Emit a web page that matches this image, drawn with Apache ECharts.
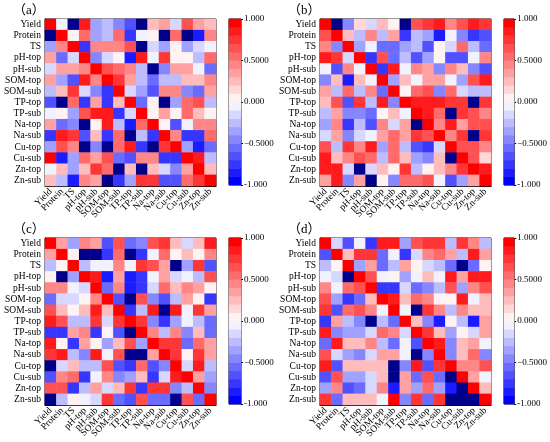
<!DOCTYPE html>
<html>
<head>
<meta charset="utf-8">
<script src="https://cdn.jsdelivr.net/npm/echarts@6/dist/echarts.min.js"></script>
<style>
  html, body { margin: 0; padding: 0; background: #fff; }
  #chart { width: 550px; height: 442px; }
</style>
</head>
<body>
<div id="chart"></div>
<script>
var labels = ['Yield', 'Protein', 'TS', 'pH-top', 'pH-sub', 'SOM-top', 'SOM-sub', 'TP-top', 'TP-sub', 'Na-top', 'Na-sub', 'Cu-top', 'Cu-sub', 'Zn-top', 'Zn-sub'];
var panelTitles = ['（a）', '（b）', '（c）', '（d）'];
var colorbarTicks = [-1, -0.5, 0, 0.5, 1];
var colorbarLabels = ['-1.000', '\u22120.5000', '0.000', '0.5000', '1.000'];

// rows = y labels (top to bottom), cols = x labels
var corrA = [
  [0.95, -0.05, -1, 0.85, -0.4, -0.3, -0.45, -0.7, -1, 0.25, 0.35, -0.2, 0.6, 0.3, 0.2],
  [-1, 0.95, 0, 0.5, -0.4, -0.25, 0.5, -0.8, -0.05, 0.05, -1, 0.55, -1, -0.85, 0.4],
  [-0.4, 0.4, 0.95, -0.75, 0.45, 0.45, 0.45, 0.65, -1, -0.2, -0.35, 0.05, -0.4, -0.15, -0.05],
  [0.3, -0.6, -0.2, 0.95, -0.45, -0.15, 0.05, -0.85, 0.8, -0.05, 0.7, 0.05, 0.05, -0.25, 0.55],
  [-0.15, 0.3, 0.3, 0.4, 0.95, 0.65, 0.55, 0.45, -0.25, -1, -0.5, 0.3, 0.3, -0.05, -0.55],
  [0.35, -0.4, -0.65, 0.8, 0.4, 0.95, 0.75, 0.3, -0.3, -0.6, -0.25, -0.25, 0.2, 0.25, 0.45],
  [-0.3, 0.2, 0.75, -0.2, -0.5, -0.8, 0.95, -0.2, -0.4, -0.7, 0.45, 0.45, -0.5, -0.6, 0.35],
  [-0.7, -1, 0.5, -0.8, 0.3, -0.8, 0.2, 0.95, -0.6, 0.05, -1, -0.35, 0.5, 0.65, -0.3],
  [-0.05, 0.05, -0.35, 0.6, 0.85, 0.8, -0.75, -0.15, 0.95, 0.05, 0.3, 0.05, 0.55, 0.25, 0.05],
  [0.3, -0.6, -0.5, -1, 0.05, 0.85, -0.25, -0.85, 0.5, 0.95, 0.05, -0.65, -0.05, 0.4, 0.4],
  [-0.75, 0.85, 0.75, -0.7, 0.2, -0.8, 0.5, -1, -0.3, -0.8, 0.95, 0.45, -0.75, -0.75, 0.5],
  [-0.35, 0.6, 0.45, -1, -0.5, -1, 0.5, 0.8, -0.75, -1, 0.75, 0.95, -0.4, -0.85, -0.6],
  [0.9, -0.85, -0.4, 0.55, 0.35, 0.6, -0.6, -0.65, 0.4, 0.45, -0.8, -0.75, 0.95, 0.8, -0.25],
  [-0.05, 0.25, -0.4, 0.2, 0.75, 0.55, -1, 0.2, -1, 0.2, -0.15, -0.45, 0.35, 0.95, 0.2],
  [0.2, -0.25, -0.85, 0.45, 0.35, -1, -0.75, -0.4, 0.7, 0.7, -0.7, -0.7, 0.5, 0.7, 0.95]
];
var corrB = [
  [0.95, -1, -0.5, 0.1, -0.2, 0.25, 0.05, -1, 0.6, 0.7, 0.8, 0.45, 0.6, 0.85, 0.7],
  [0.6, 0.95, 0.25, -0.3, 0.45, -0.25, 0.3, -0.8, -0.25, -0.35, -0.9, -0.1, -0.5, -0.8, -0.65],
  [0.4, -0.5, 0.95, -0.35, -0.05, -0.55, -0.55, -0.35, -0.25, -0.7, 0.05, -0.2, 0.55, -0.3, -0.55],
  [0.8, 0.75, -0.15, 0.95, -0.8, 0.65, -0.55, -0.3, -0.7, -0.4, 0.05, -0.7, -0.65, -0.05, 0.4],
  [-0.05, -0.7, 0.45, -0.05, 0.95, -0.75, 0.85, -0.05, 0.45, 0.3, -0.45, 0.45, 0.2, -0.5, -0.65],
  [-0.45, 0.2, -0.85, 0.25, -0.05, 0.95, -0.35, 0.25, -0.05, 0.3, 0.3, -0.05, -0.35, 0.6, 0.85],
  [0.3, -0.25, 0.5, -0.25, 0.45, -0.6, 0.95, 0.05, 0.55, 0.65, -0.45, 0.5, -0.2, -0.3, -0.3],
  [0.25, 0.65, -0.7, 0.7, -0.3, 0.8, -0.45, 0.95, 0.8, 0.8, 0.85, 0.75, 0.75, -1, 0.75],
  [-0.3, 0.35, -0.5, -0.5, -0.55, 0.05, 0.25, -0.05, 0.9, 0.85, 0.5, -1, 0.7, 0.6, 0.45],
  [-0.4, 0.45, -0.75, -0.25, -0.7, 0.45, -0.15, 0.35, -1, 0.95, 0.4, 0.85, 0.3, 0.6, 0.6],
  [-0.2, 0.35, -0.45, -0.2, -0.05, 0.35, 0.55, 0.3, 0.7, 0.6, 0.95, 0.4, 0.7, -1, 0.75],
  [0.65, -0.25, 0.7, 0.4, 0.8, -0.35, 0.5, -0.25, -0.65, -0.8, -0.15, 0.95, 0.65, 0.6, 0.45],
  [0.8, 0.25, 0.45, 0.6, 0.55, -0.3, 0.55, 0.2, -0.35, -0.5, 0.25, -1, 0.95, 0.65, 0.15],
  [0.8, 0.8, -0.15, -1, -0.2, 0.25, 0.05, 0.7, -0.3, 0.05, 0.2, 0.4, 0.7, 0.9, 0.85],
  [0.3, 0.8, -0.5, 0.35, -1, 0.05, -0.45, 0.5, 0.5, 0.6, -0.05, -0.65, -0.35, 0.35, 0.95]
];
var corrC = [
  [0.95, 0.3, -0.35, 0.4, 0.3, -0.7, 0.65, -0.6, -0.5, 0.6, 0.7, 0.2, -0.2, 0.2, 0.85],
  [0.35, 0.95, 0.05, -1, -1, -0.8, 0.55, -1, -0.8, -0.05, 0.5, 0.05, 0.2, 0.05, 0.4],
  [-0.3, 0.05, 0.95, -0.25, -0.05, -0.05, 0.45, -0.05, 0.75, 0.6, 0.35, -1, -0.4, 0.75, -0.65],
  [0.05, -1, -0.35, 0.95, 0.8, -0.85, 0.35, -0.85, -0.8, -0.05, 0.35, -0.15, -0.05, -0.25, 0.6],
  [0.4, 0.4, -0.05, -0.15, 0.95, -0.6, 0.45, -0.85, -0.8, -0.2, 0.55, 0.2, 0.45, 0.3, 0.05],
  [-0.6, -0.2, -0.2, 0.05, 0.45, 0.95, -0.7, -1, 0.6, -0.45, -0.65, -0.3, 0.35, 0.05, -0.75],
  [0.6, 0.2, 0.05, 0.25, 0.85, 0.2, 0.95, -0.8, -0.25, 0.8, -1, 0.85, -0.05, 0.75, 0.3],
  [0.85, 0.65, -0.3, -0.3, 0.75, -0.2, 0.75, 0.95, 0.7, -0.45, -0.8, -0.4, -0.05, -0.3, -0.55],
  [-0.75, -0.8, 0.35, 0.45, -0.75, 0.05, -0.65, -1, 0.95, 0.4, -0.3, 0.4, -0.45, 0.25, -0.55],
  [0.8, 0.05, -0.8, 0.35, 0.05, -0.35, 0.2, 0.6, -0.4, 0.95, 0.7, 0.75, -0.6, 0.5, 0.35],
  [0.75, 0.8, -0.25, -0.5, 0.85, -0.05, 0.65, -1, -1, 0.35, 0.95, 0.75, 0.05, 0.7, 0.3],
  [-1, -0.2, 0.25, -0.25, -0.3, 0.65, -0.65, -0.75, 0.55, -0.7, -0.5, 0.95, -0.2, 0.85, -0.3],
  [-0.7, 0.4, 0.55, -0.75, -0.05, 0.4, -0.45, -0.35, 0.2, -0.75, -0.15, 0.8, 0.95, 0.3, -0.4],
  [0.65, 0.6, -0.8, -0.25, 0.35, -0.15, 0.2, 0.75, -0.8, 0.75, 0.75, -0.45, -0.3, 0.95, -0.45],
  [-1, -0.3, 0.05, -0.05, -0.2, 0.75, -0.55, -0.65, 0.6, -0.6, -0.55, -1, 0.65, -0.55, 0.95]
];
var corrD = [
  [0.95, -0.2, -0.65, -0.05, -0.8, 0.8, 0.8, -0.4, 0.6, 0.75, 0.7, -0.3, 0.7, 0.4, -0.3],
  [-0.7, 0.95, 0.2, 0.7, 0.7, -0.6, -0.1, -0.75, -0.2, 0.4, 0.55, 0.3, -0.3, 0.8, 0.35],
  [-0.25, 0.05, 0.95, -0.35, 0.3, -0.6, -0.3, 0.35, 0.05, -0.15, -0.25, -0.6, -1, -0.6, 0.05],
  [-0.05, -0.15, -1, 0.95, 0.65, -0.05, 0.05, -0.35, -0.05, 0.2, -0.05, 0.8, 0.3, 0.8, 0.8],
  [0.45, -0.05, 0.55, 0.65, 0.95, -0.75, -0.75, -0.2, -0.6, -0.45, -0.3, 0.65, -0.4, 0.45, 0.6],
  [0.6, -0.35, -0.75, -0.6, 0.2, 0.95, 0.8, 0.25, 0.55, 0.4, 0.05, 0.05, 0.8, -0.05, 0.2],
  [0.7, -0.7, 0.55, 0.6, 0.45, -0.05, 0.95, -0.05, -1, 0.75, 0.4, -0.25, 0.4, 0.2, 0.2],
  [-0.75, 0.35, -0.3, -0.5, -1, -0.3, -0.6, 0.95, 0.25, -0.5, -0.9, 0.05, -0.25, -0.9, 0.35],
  [0.8, -0.5, -0.4, -0.4, -0.15, 0.55, 0.45, -0.2, 0.95, 0.7, 0.2, -0.35, 0.05, -0.2, 0.35],
  [-0.55, 0.85, 0.25, 0.2, 0.4, -0.25, -0.6, -0.05, -0.7, 0.95, 0.8, -0.5, 0.2, 0.35, -0.05],
  [0.6, -0.15, -0.4, -0.5, -0.2, 0.3, 0.3, -0.1, -1, -0.5, 0.95, -0.45, 0.2, 0.5, -0.5],
  [0.85, -0.65, 0.25, 0.25, 0.25, 0.2, -1, -0.45, 0.8, -0.7, 0.75, 0.95, 0.4, 0.45, 0.6],
  [-0.65, 0.6, -0.35, -0.35, -0.2, 0.2, -1, 0.35, -0.6, 0.6, -0.6, -1, 0.95, 0.35, -0.05],
  [-0.35, 0.45, -0.65, -0.6, -0.15, 0.4, -0.85, 0.35, -0.35, 0.5, -0.35, -0.85, -1, 0.95, 0.2],
  [0.75, -0.6, 0.25, 0.25, 0.25, -0.05, 0.9, -0.5, 0.75, -0.6, 0.75, -1, -1, -1, 0.95]
];
var matrices = [corrA, corrB, corrC, corrD];

var font = 'Liberation Serif';
var heatW = 171, heatH = 167;
var panelPos = [[45, 19], [320, 19], [45, 238], [320, 238]];

// 20-step blue-white-red map, plus navy for -1
function bwr(t) {
  var r, g, b;
  if (t < 0.5) { var s = t * 2; r = g = Math.round(255 * s); b = 255; }
  else { var s2 = (t - 0.5) * 2; r = 255; g = b = Math.round(255 * (1 - s2)); }
  return 'rgb(' + r + ',' + g + ',' + b + ')';
}
var pieces = [{ lt: -0.99, color: '#00008b' }];
for (var i = 0; i < 20; i++) {
  var lo = Math.round((-1 + i * 0.1) * 10) / 10;
  var hi = Math.round((-1 + (i + 1) * 0.1) * 10) / 10;
  var p = { color: bwr(i / 19) };
  p.gte = i === 0 ? -0.99 : lo;
  if (i === 19) p.lte = 1.01; else p.lt = hi;
  pieces.push(p);
}
var barSteps = [];
for (var j = 0; j < 20; j++) barSteps.push(Math.round((-0.95 + j * 0.1) * 100) / 100);

var grids = [], xAxes = [], yAxes = [], series = [], titles = [];
matrices.forEach(function(m, k) {
  var x0 = panelPos[k][0], y0 = panelPos[k][1];
  grids.push({ left: x0, top: y0, width: heatW, height: heatH, show: true, borderColor: '#000', borderWidth: 1 });
  xAxes.push({
    type: 'category', gridIndex: k, data: labels,
    axisLabel: { rotate: 45, interval: 0, fontSize: 9.5, fontFamily: font, color: '#000', margin: 4 },
    axisTick: { length: 3, alignWithLabel: true, lineStyle: { color: '#000' } },
    axisLine: { lineStyle: { color: '#000' } }
  });
  yAxes.push({
    type: 'category', gridIndex: k, data: labels, inverse: true,
    axisLabel: { interval: 0, fontSize: 9.5, fontFamily: font, color: '#000', margin: 4 },
    axisTick: { length: 3, alignWithLabel: true, lineStyle: { color: '#000' } },
    axisLine: { lineStyle: { color: '#000' } }
  });
  var data = [];
  m.forEach(function(row, r) {
    row.forEach(function(v, c) { data.push([c, r, v]); });
  });
  series.push({ type: 'heatmap', xAxisIndex: k, yAxisIndex: k, data: data, itemStyle: { borderWidth: 0 } });
  titles.push({ text: panelTitles[k], left: x0 - 32, top: y0 - 15, padding: 0,
    textStyle: { fontSize: 13, fontWeight: 'normal', fontFamily: font + ', Noto Sans CJK SC', color: '#000' } });
});

// colour bars
matrices.forEach(function(m, k) {
  var x0 = panelPos[k][0] + 184, y0 = panelPos[k][1];
  var g = grids.length;
  grids.push({ left: x0, top: y0, width: 12, height: heatH - 1, show: true, borderColor: '#000', borderWidth: 1 });
  xAxes.push({ type: 'category', gridIndex: g, data: ['c'], show: false });
  var yi = yAxes.length;
  yAxes.push({ type: 'category', gridIndex: g, data: barSteps, show: false });
  yAxes.push({
    type: 'value', gridIndex: g, position: 'right', min: -1, max: 1, interval: 0.5,
    splitLine: { show: false },
    axisLine: { show: false },
    axisTick: { show: true, length: 2, lineStyle: { color: '#000' } },
    axisLabel: { fontSize: 9, fontFamily: font, color: '#000', margin: 3,
      formatter: function(v) { var idx = colorbarTicks.indexOf(v); return idx >= 0 ? colorbarLabels[idx] : ''; } }
  });
  series.push({ type: 'heatmap', xAxisIndex: xAxes.length - 1, yAxisIndex: yi,
    data: barSteps.map(function(v, i) { return [0, i, v]; }), itemStyle: { borderWidth: 0 } });
});

var chart = echarts.init(document.getElementById('chart'));
chart.setOption({
  animation: false,
  backgroundColor: '#fff',
  title: titles,
  grid: grids,
  xAxis: xAxes,
  yAxis: yAxes,
  visualMap: { type: 'piecewise', show: false, dimension: 2, seriesIndex: [0, 1, 2, 3, 4, 5, 6, 7], pieces: pieces },
  series: series
});
</script>
</body>
</html>
